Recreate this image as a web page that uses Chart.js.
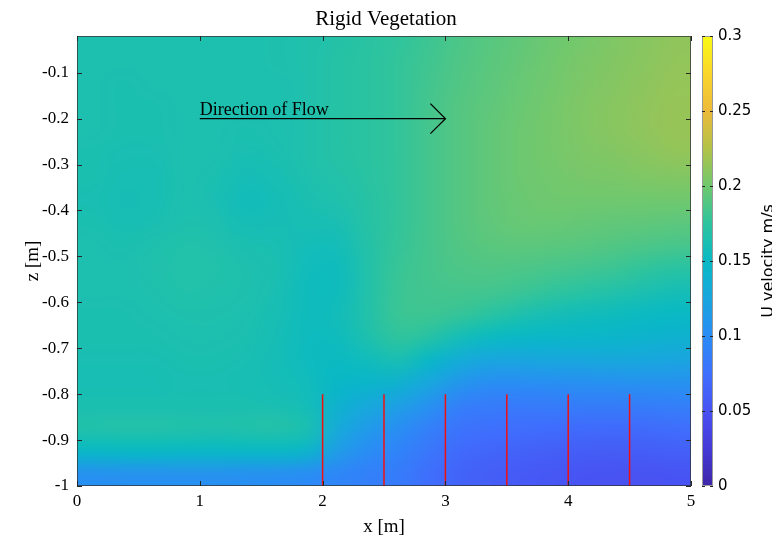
<!DOCTYPE html>
<html>
<head>
<meta charset="utf-8">
<script src="https://cdn.jsdelivr.net/npm/chart.js@4.4.0/dist/chart.umd.min.js"></script>
<style>
  html, body { margin: 0; padding: 0; background: #fff; }
  #wrap { width: 772px; height: 538px; }
</style>
</head>
<body>
<div id="wrap"><canvas id="chart"></canvas></div>
<script>
// grid cell centres (x along flume, z depth)
const xCells = [0.125, 0.375, 0.625, 0.875, 1.125, 1.375, 1.625, 1.875, 2.125, 2.375,
                2.625, 2.875, 3.125, 3.375, 3.625, 3.875, 4.125, 4.375, 4.625, 4.875];
const zCells = [-0.025, -0.075, -0.125, -0.175, -0.225, -0.275, -0.325, -0.375, -0.425, -0.475,
                -0.525, -0.575, -0.625, -0.675, -0.725, -0.775, -0.825, -0.875, -0.925, -0.975];

// U velocity (m/s), one row per zCells entry, one column per xCells entry
const uVel = [
  [.164,.164,.164,.164,.164,.164,.165,.166,.169,.172,.176,.181,.187,.191,.195,.199,.202,.206,.209,.212],
  [.164,.164,.164,.164,.164,.164,.165,.166,.170,.173,.177,.182,.188,.192,.196,.200,.204,.207,.210,.213],
  [.164,.163,.164,.164,.164,.164,.164,.166,.170,.173,.177,.183,.189,.193,.197,.201,.205,.208,.211,.214],
  [.164,.163,.163,.164,.164,.164,.164,.166,.170,.173,.177,.184,.190,.194,.198,.202,.206,.209,.212,.215],
  [.164,.163,.163,.164,.164,.163,.164,.166,.170,.173,.177,.184,.190,.195,.199,.202,.206,.209,.212,.215],
  [.163,.162,.162,.164,.164,.162,.163,.166,.170,.173,.177,.184,.190,.195,.199,.202,.205,.207,.210,.213],
  [.163,.161,.161,.164,.163,.159,.161,.165,.168,.172,.177,.184,.190,.195,.199,.201,.203,.204,.206,.207],
  [.162,.160,.161,.164,.162,.157,.159,.163,.166,.171,.177,.184,.190,.195,.198,.200,.200,.200,.200,.200],
  [.163,.161,.162,.165,.164,.159,.160,.161,.162,.170,.177,.184,.190,.194,.197,.197,.196,.195,.194,.193],
  [.164,.163,.165,.167,.166,.163,.162,.158,.158,.169,.178,.184,.189,.192,.193,.192,.191,.189,.187,.185],
  [.164,.164,.166,.167,.167,.165,.163,.156,.155,.168,.179,.184,.187,.188,.187,.185,.183,.180,.176,.172],
  [.164,.164,.165,.167,.166,.165,.162,.155,.155,.168,.180,.183,.184,.183,.180,.176,.172,.168,.164,.160],
  [.163,.163,.164,.165,.165,.164,.161,.155,.157,.168,.180,.181,.178,.172,.165,.160,.157,.155,.152,.150],
  [.163,.163,.163,.164,.164,.163,.160,.154,.155,.165,.176,.170,.158,.152,.149,.147,.146,.145,.142,.140],
  [.162,.162,.162,.163,.163,.162,.159,.154,.152,.156,.162,.148,.133,.125,.125,.126,.127,.128,.126,.124],
  [.161,.161,.161,.162,.162,.161,.159,.156,.148,.145,.140,.125,.110,.102,.102,.103,.104,.105,.106,.106],
  [.163,.163,.163,.163,.163,.163,.162,.158,.140,.128,.118,.105,.088,.085,.084,.085,.086,.086,.087,.088],
  [.167,.168,.168,.167,.166,.167,.168,.163,.130,.113,.102,.088,.078,.075,.073,.072,.071,.070,.071,.073],
  [.149,.150,.150,.149,.149,.149,.149,.144,.115,.100,.092,.080,.070,.066,.063,.060,.059,.058,.059,.061],
  [.104,.105,.105,.105,.105,.104,.103,.100,.095,.089,.085,.073,.064,.060,.056,.054,.052,.051,.051,.052]
];

const xTicks = [0, 1, 2, 3, 4, 5];
const zTicks = [-1, -0.9, -0.8, -0.7, -0.6, -0.5, -0.4, -0.3, -0.2, -0.1];
const cbTicks = [0, 0.05, 0.1, 0.15, 0.2, 0.25, 0.3];
const zTop = -0.02;
const cbMin = 0, cbMax = 0.3;

// vegetation stems
const stemX = [2, 2.5, 3, 3.5, 4, 4.5];
const stemBase = -1;
const stemTop = -0.8;

// flow arrow
const arrowStart = [1, -0.2];
const arrowEnd = [3, -0.2];
const arrowLabel = 'Direction of Flow';

const SERIF = "'Liberation Serif', 'Times New Roman', serif";
const SANS = "'DejaVu Sans', sans-serif";
const AXIS_COLOR = '#262626';

// parula-like colormap
const PARULA = [
  [0.000, 62, 38, 168], [0.083, 69, 58, 215], [0.167, 72, 82, 242], [0.250, 62, 112, 253],
  [0.333, 42, 140, 245], [0.417, 25, 166, 222], [0.500, 8, 185, 196], [0.583, 45, 196, 158],
  [0.667, 112, 200, 110], [0.750, 178, 194, 72], [0.833, 236, 186, 58], [0.917, 250, 214, 44],
  [1.000, 249, 251, 20]
];

function parula(t) {
  t = Math.max(0, Math.min(1, t));
  for (let i = 1; i < PARULA.length; i++) {
    const a = PARULA[i - 1], b = PARULA[i];
    if (t <= b[0]) {
      const f = (t - a[0]) / (b[0] - a[0]);
      return [0, 1, 2].map(k => Math.round(a[k + 1] + (b[k + 1] - a[k + 1]) * f));
    }
  }
  return PARULA[PARULA.length - 1].slice(1);
}

// small bitmap, one pixel per grid cell, scaled into the plot with smoothing
let fieldImage = null;
function buildFieldImage() {
  const c = document.createElement('canvas');
  c.width = xCells.length;
  c.height = zCells.length;
  const g = c.getContext('2d');
  const img = g.createImageData(c.width, c.height);
  uVel.forEach((row, i) => {
    row.forEach((v, j) => {
      const [r, gg, b] = parula((v - cbMin) / (cbMax - cbMin));
      const o = (i * c.width + j) * 4;
      img.data[o] = r; img.data[o + 1] = gg; img.data[o + 2] = b; img.data[o + 3] = 255;
    });
  });
  g.putImageData(img, 0, 0);
  return c;
}

const fieldPlugin = {
  id: 'field',
  beforeDatasetsDraw(chart) {
    const { ctx, chartArea: a, scales: { x, y } } = chart;
    if (!fieldImage) fieldImage = buildFieldImage();
    const dx = xCells[1] - xCells[0];
    const dz = zCells[0] - zCells[1];
    const left = x.getPixelForValue(xCells[0] - dx / 2);
    const right = x.getPixelForValue(xCells[xCells.length - 1] + dx / 2);
    const top = y.getPixelForValue(zCells[0] + dz / 2);
    const bottom = y.getPixelForValue(zCells[zCells.length - 1] - dz / 2);
    ctx.save();
    ctx.beginPath();
    ctx.rect(a.left, a.top, a.right - a.left, a.bottom - a.top);
    ctx.clip();
    ctx.imageSmoothingEnabled = true;
    ctx.imageSmoothingQuality = 'high';
    ctx.drawImage(fieldImage, left, top, right - left, bottom - top);
    ctx.restore();
  },
  afterDatasetsDraw(chart) {
    const { ctx, chartArea: a, scales: { x, y, cb } } = chart;
    ctx.save();

    // arrow head + label
    const tx = x.getPixelForValue(arrowEnd[0]);
    const ty = y.getPixelForValue(arrowEnd[1]);
    ctx.strokeStyle = '#000';
    ctx.lineWidth = 1.3;
    ctx.beginPath();
    ctx.moveTo(tx - 15, ty - 15);
    ctx.lineTo(tx, ty);
    ctx.lineTo(tx - 15, ty + 15);
    ctx.stroke();
    ctx.fillStyle = '#000';
    ctx.font = '18px ' + SERIF;
    ctx.textAlign = 'left';
    ctx.textBaseline = 'alphabetic';
    ctx.fillText(arrowLabel, x.getPixelForValue(arrowStart[0]), y.getPixelForValue(arrowStart[1]) - 4);

    // box + inward ticks
    ctx.strokeStyle = 'rgba(50,50,50,0.75)';
    ctx.lineWidth = 1;
    ctx.strokeRect(a.left + 0.5, a.top + 0.5, a.right - a.left - 1, a.bottom - a.top - 1);
    ctx.strokeStyle = AXIS_COLOR;
    ctx.beginPath();
    xTicks.forEach(v => {
      const px = Math.round(x.getPixelForValue(v)) + 0.5;
      ctx.moveTo(px, a.bottom); ctx.lineTo(px, a.bottom - 5);
      ctx.moveTo(px, a.top); ctx.lineTo(px, a.top + 5);
    });
    zTicks.forEach(v => {
      const py = Math.round(y.getPixelForValue(v)) + 0.5;
      ctx.moveTo(a.left, py); ctx.lineTo(a.left + 5, py);
      ctx.moveTo(a.right, py); ctx.lineTo(a.right - 5, py);
    });
    ctx.stroke();

    // colour bar
    const bx = cb.left + 11, bw = 11;
    const b0 = cb.getPixelForValue(cbMin), b1 = cb.getPixelForValue(cbMax);
    const grad = ctx.createLinearGradient(0, b0, 0, b1);
    PARULA.forEach(s => grad.addColorStop(s[0], `rgb(${s[1]},${s[2]},${s[3]})`));
    ctx.fillStyle = grad;
    ctx.fillRect(bx, b1, bw, b0 - b1);
    ctx.strokeStyle = '#9a9a9a';
    ctx.strokeRect(bx + 0.5, b1 + 0.5, bw - 1, b0 - b1 - 1);
    ctx.strokeStyle = AXIS_COLOR;
    ctx.beginPath();
    cbTicks.forEach(v => {
      const py = Math.round(cb.getPixelForValue(v)) + 0.5;
      ctx.moveTo(bx, py); ctx.lineTo(bx + 3, py);
      ctx.moveTo(bx + bw, py); ctx.lineTo(bx + bw - 3, py);
    });
    ctx.stroke();

    // colour bar label, reads bottom to top
    ctx.translate(cb.right + 1, (b0 + b1) / 2);
    ctx.rotate(-Math.PI / 2);
    ctx.fillStyle = '#000';
    ctx.font = '16px ' + SANS;
    ctx.textAlign = 'center';
    ctx.textBaseline = 'alphabetic';
    ctx.fillText('U velocity m/s', 0, 0);
    ctx.restore();
  }
};

function stemDatasets() {
  return stemX.map(sx => ({
    data: [{ x: sx, y: stemBase }, { x: sx, y: stemTop }],
    showLine: true,
    borderColor: '#f01010',
    borderWidth: 1.5,
    pointRadius: 0
  }));
}

const arrowDataset = {
  data: [{ x: arrowStart[0], y: arrowStart[1] }, { x: arrowEnd[0], y: arrowEnd[1] }],
  showLine: true,
  borderColor: '#000',
  borderWidth: 1.3,
  pointRadius: 0
};

new Chart(document.getElementById('chart'), {
  type: 'scatter',
  data: { datasets: [...stemDatasets(), arrowDataset] },
  options: {
    responsive: true,
    maintainAspectRatio: false,
    animation: false,
    layout: { padding: 0 },
    plugins: {
      legend: { display: false },
      tooltip: { enabled: false },
      title: {
        display: true,
        text: 'Rigid Vegetation',
        color: '#000',
        font: { family: SERIF, size: 21, weight: 'normal' },
        padding: { top: 6, bottom: 4 }
      }
    },
    scales: {
      x: {
        type: 'linear', position: 'bottom', min: 0, max: 5,
        afterBuildTicks: s => { s.ticks = xTicks.map(v => ({ value: v })); },
        afterFit: s => { s.height = 52; },
        grid: { display: false, drawTicks: false },
        border: { display: false },
        ticks: { color: '#000', font: { family: SERIF, size: 17 }, padding: 5 },
        title: { display: true, text: 'x [m]', color: '#000', font: { family: SERIF, size: 19 }, padding: { top: 0, bottom: 0 } }
      },
      y: {
        type: 'linear', position: 'left', min: -1, max: zTop,
        afterBuildTicks: s => { s.ticks = zTicks.map(v => ({ value: v })); },
        afterFit: s => { s.width = 77; },
        grid: { display: false, drawTicks: false },
        border: { display: false },
        ticks: { color: '#000', font: { family: SERIF, size: 17 }, padding: 8, callback: v => String(v) },
        title: { display: true, text: 'z [m]', color: '#000', font: { family: SERIF, size: 19 }, padding: { top: 22, bottom: 0 } }
      },
      cb: {
        type: 'linear', position: 'right', min: cbMin, max: cbMax,
        afterBuildTicks: s => { s.ticks = cbTicks.map(v => ({ value: v })); },
        afterFit: s => { s.width = 81; },
        grid: { display: false, drawTicks: false },
        border: { display: false },
        ticks: { color: '#000', font: { family: SANS, size: 15 }, padding: 27, callback: v => String(v) }
      }
    }
  },
  plugins: [fieldPlugin]
});
</script>
</body>
</html>
